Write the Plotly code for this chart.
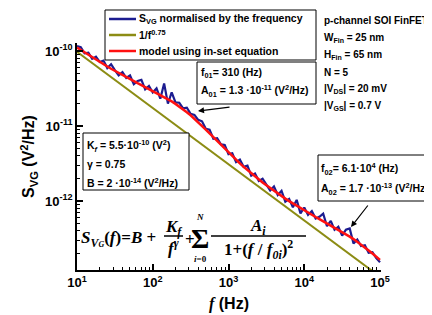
import plotly.graph_objects as go

# ---------------- data ----------------
freq = [10, 11.22, 12.59, 14.13, 15.85, 17.78, 19.95, 22.39, 25.12, 28.18,
        31.62, 35.48, 39.81, 44.67, 50.12, 56.23, 63.10, 70.79, 79.43, 89.13,
        100, 112.2, 125.9, 141.3, 158.5, 177.8, 199.5, 223.9, 251.2, 281.8,
        316.2, 354.8, 398.1, 446.7, 501.2, 562.3, 631.0, 707.9, 794.3, 891.3,
        1000, 1122, 1259, 1413, 1585, 1778, 1995, 2239, 2512, 2818,
        3162, 3548, 3981, 4467, 5012, 5623, 6310, 7079, 7943, 8913,
        10000, 11220, 12590, 14130, 15850, 17780, 19950, 22390, 25120, 28180,
        31620, 35480, 39810, 44670, 50120, 56230, 63100, 70790, 79430, 89130,
        100000]

svg_measured = [1.162e-10, 1.128e-10, 9.326e-11, 9.504e-11, 7.865e-11, 8.401e-11, 7.138e-11, 7.464e-11, 5.932e-11, 6.663e-11,
                5.555e-11, 4.744e-11, 5.226e-11, 4.373e-11, 4.719e-11, 3.608e-11, 3.992e-11, 4.123e-11, 3.084e-11, 3.415e-11,
                2.804e-11, 3.172e-11, 2.315e-11, 3.691e-11, 1.987e-11, 2.802e-11, 2.067e-11, 2.047e-11, 1.715e-11, 1.756e-11,
                1.455e-11, 1.408e-11, 1.208e-11, 1.157e-11, 9.19e-12, 8.95e-12, 6.77e-12, 6.89e-12, 5.71e-12, 5.57e-12,
                4.22e-12, 4.33e-12, 3.30e-12, 3.56e-12, 2.858e-12, 2.96e-12, 2.18e-12, 2.33e-12, 1.85e-12, 1.98e-12,
                1.655e-12, 1.385e-12, 1.567e-12, 1.201e-12, 1.367e-12, 9.81e-13, 1.068e-12, 8.25e-13, 1.035e-12, 6.83e-13,
                8.20e-13, 6.52e-13, 7.34e-13, 5.84e-13, 6.15e-13, 6.77e-13, 4.61e-13, 5.44e-13, 4.13e-13, 4.54e-13,
                3.45e-13, 4.14e-13, 4.31e-13, 2.71e-13, 3.07e-13, 2.51e-13, 2.57e-13, 2.04e-13, 2.08e-13, 1.73e-13,
                1.53e-13]

svg_model = [1.110e-10, 1.029e-10, 9.546e-11, 8.866e-11, 8.236e-11, 7.665e-11, 7.138e-11, 6.652e-11, 6.211e-11, 5.804e-11,
             5.430e-11, 5.085e-11, 4.768e-11, 4.476e-11, 4.206e-11, 3.956e-11, 3.724e-11, 3.509e-11, 3.306e-11, 3.116e-11,
             2.936e-11, 2.763e-11, 2.598e-11, 2.438e-11, 2.281e-11, 2.126e-11, 1.974e-11, 1.824e-11, 1.676e-11, 1.530e-11,
             1.390e-11, 1.255e-11, 1.127e-11, 1.008e-11, 8.98e-12, 7.98e-12, 7.09e-12, 6.29e-12, 5.585e-12, 4.965e-12,
             4.422e-12, 3.949e-12, 3.535e-12, 3.174e-12, 2.858e-12, 2.582e-12, 2.338e-12, 2.124e-12, 1.935e-12, 1.767e-12,
             1.618e-12, 1.484e-12, 1.365e-12, 1.258e-12, 1.163e-12, 1.076e-12, 9.96e-13, 9.26e-13, 8.61e-13, 8.02e-13,
             7.48e-13, 6.99e-13, 6.54e-13, 6.12e-13, 5.74e-13, 5.38e-13, 5.05e-13, 4.735e-13, 4.43e-13, 4.146e-13,
             3.87e-13, 3.61e-13, 3.35e-13, 3.106e-13, 2.86e-13, 2.63e-13, 2.40e-13, 2.19e-13, 1.99e-13, 1.81e-13,
             1.64e-13]

fit_freq = [10, 100, 1000, 10000, 100000]
fit_075 = [9.78e-11, 1.739e-11, 3.092e-12, 5.50e-13, 9.78e-14]

x_tickvals = [10, 100, 1000, 10000, 100000]
x_ticktext = ["10<sup>1</sup>", "10<sup>2</sup>", "10<sup>3</sup>", "10<sup>4</sup>", "10<sup>5</sup>"]
y_tickvals = [1e-12, 1e-11, 1e-10]
y_ticktext = ["10<sup>-12</sup>", "10<sup>-11</sup>", "10<sup>-10</sup>"]

legend_names = ["S<sub>VG</sub> normalised by the frequency",
                "1/f<sup>0.75</sup>",
                "model using in-set equation"]

box1_lines = ["f<sub>01</sub>= 310 (Hz)",
              "A<sub>01</sub> = 1.3 ·10<sup>-11</sup> (V<sup>2</sup>/Hz)"]
box2_lines = ["f<sub>02</sub>= 6.1·10<sup>4</sup> (Hz)",
              "A<sub>02</sub> = 1.7 ·10<sup>-13</sup> (V<sup>2</sup>/Hz)"]
box3_lines = ["K<sub><i>f</i></sub> = 5.5·10<sup>-10</sup> (V<sup>2</sup>)",
              "γ = 0.75",
              "B = 2 ·10<sup>-14</sup> (V<sup>2</sup>/Hz)"]
info_lines = ["p-channel SOI FinFET",
              "W<sub>Fin</sub> = 25 nm",
              "H<sub>Fin</sub> = 65 nm",
              "N = 5",
              "|V<sub>DS</sub>| = 20 mV",
              "|V<sub>GS</sub>| = 0.7 V"]

# ---------------- layout helpers (pixel -> paper) ----------------
W, H = 432, 315
X0, X1, Y0, Y1 = 69, 373, 35, 262


def px(x):
    return (x - X0) / (X1 - X0)


def py(y):
    return (Y1 - y) / (Y1 - Y0)


SANS = "Liberation Sans, Arial, sans-serif"
SERIF = "Liberation Serif, Times New Roman, serif"
BLUE = "#1c1c90"
OLIVE = "#8c8c14"
RED = "#ff1010"
COLORS = [BLUE, OLIVE, RED]

fig = go.Figure()
fig.add_trace(go.Scatter(x=freq, y=svg_measured, mode="lines", name=legend_names[0],
                         line=dict(color=BLUE, width=2.2), showlegend=False))
fig.add_trace(go.Scatter(x=fit_freq, y=fit_075, mode="lines", name=legend_names[1],
                         line=dict(color=OLIVE, width=2), showlegend=False))
fig.add_trace(go.Scatter(x=freq, y=svg_model, mode="lines", name=legend_names[2],
                         line=dict(color=RED, width=2.5), showlegend=False))

annotations = []
shapes = []


def text(x, y, s, size=11, xanchor="left", family=SANS, weight="bold"):
    annotations.append(dict(x=px(x), y=py(y), xref="paper", yref="paper", text=s,
                            showarrow=False, xanchor=xanchor, yanchor="middle", borderpad=0,
                            font=dict(family=family, size=size, color="black", weight=weight)))


def box(x0, y0, x1, y1):
    shapes.append(dict(type="rect", xref="paper", yref="paper",
                       x0=px(x0), x1=px(x1), y0=py(y1), y1=py(y0),
                       line=dict(color="black", width=1), fillcolor="white", layer="above"))


def hline(x0, x1, y, color, width):
    shapes.append(dict(type="line", xref="paper", yref="paper", x0=px(x0), x1=px(x1),
                       y0=py(y), y1=py(y), line=dict(color=color, width=width), layer="above"))


def arrow(hx, hy, tx, ty):
    annotations.append(dict(x=px(hx), y=py(hy), ax=tx - hx, ay=ty - hy, xref="paper", yref="paper",
                            axref="pixel", ayref="pixel", text="", showarrow=True,
                            arrowhead=2, arrowsize=1, arrowwidth=1.2, arrowcolor="black"))


# legend (drawn by hand so that its spacing matches)
box(97, 2, 308, 52)
for i, (name, col) in enumerate(zip(legend_names, COLORS)):
    yy = 11 + 16 * i
    hline(101, 128, yy, col, 2.5)
    text(130, yy, name, size=10.5)

# boxes with texts
box(189, 54, 308, 96)
for i, s in enumerate(box1_lines):
    text(192, 65 + 18 * i, s, size=10.5)
box(310, 147, 430, 193)
for i, s in enumerate(box2_lines):
    text(312, 161 + 20 * i, s, size=10.5)
box(75, 125, 181, 182)
for i, s in enumerate(box3_lines):
    text(78, 138 + 18 * i, s, size=10.5)
for i, s in enumerate(info_lines):
    text(315, 13 + 17 * i, s, size=10)

arrow(190, 103, 223, 99)
arrow(343, 219, 361, 196)

# equation
EQ = 17
text(72, 231, "<b><i>S</i></b><sub><b><i>V<span style='font-size:8px'>G</span></i></b></sub><b>(<i>f</i>)=<i>B</i> +</b>",
     size=EQ, family=SERIF)
text(165, 220, "<b><i>K</i></b><sub><b><i>f</i></b></sub>", size=EQ, xanchor="center", family=SERIF)
hline(156, 175, 228, "black", 1.5)
text(165, 239, "<b><i>f</i></b><sup><b><i>γ</i></b></sup>", size=EQ, xanchor="center", family=SERIF)
text(176, 231, "<b>+</b>", size=EQ, xanchor="left", family=SERIF)
text(192, 230, "<b>Σ</b>", size=28, xanchor="center", family=SERIF)
text(192, 209, "<i>N</i>", size=9, xanchor="center", family=SERIF)
text(192, 251, "<b><i>i</i>=0</b>", size=9, xanchor="center", family=SERIF)
text(250, 219, "<b><i>A</i></b><sub><b><i>i</i></b></sub>", size=EQ, xanchor="center", family=SERIF)
hline(203, 298, 228, "black", 1.5)
text(250, 241, "<b>1+(<i>f</i> / <i>f</i></b><sub><b><i>0i</i></b></sub><b>)</b><sup><b>2</b></sup>",
     size=EQ, xanchor="center", family=SERIF)

minor_x = [m * 10 ** e for e in range(1, 5) for m in range(2, 10)]
minor_y = [m * 10.0 ** e for e in range(-13, -9) for m in range(2, 10)]

axis_common = dict(type="log", showline=True, linecolor="black", linewidth=1.5, mirror=False,
                   ticks="inside", ticklen=6, tickwidth=1.5, tickcolor="black",
                   showgrid=False, zeroline=False, tickmode="array",
                   tickfont=dict(family=SANS, size=13, color="black", weight="bold"))

fig.update_layout(
    width=W, height=H,
    margin=dict(l=X0, r=W - X1, t=Y0, b=H - Y1, autoexpand=False),
    paper_bgcolor="white", plot_bgcolor="white",
    xaxis=dict(range=[1, 5.013], tickvals=x_tickvals, ticktext=x_ticktext,
               minor=dict(tickmode="array", tickvals=minor_x, ticks="inside", ticklen=3,
                          tickwidth=1, tickcolor="black", showgrid=False),
               title=dict(text="<span style='font-family:Liberation Serif'><i>f</i></span> (Hz)",
                          font=dict(family=SANS, size=16, color="black", weight="bold"), standoff=8),
               **axis_common),
    yaxis=dict(range=[-12.92, -9.893], tickvals=y_tickvals, ticktext=y_ticktext,
               minor=dict(tickmode="array", tickvals=minor_y, ticks="inside", ticklen=3,
                          tickwidth=1, tickcolor="black", showgrid=False),
               title=dict(text="S<sub>VG</sub> (V<sup>2</sup>/Hz)",
                          font=dict(family=SANS, size=16, color="black", weight="bold"), standoff=6),
               **axis_common),
    showlegend=False,
    annotations=annotations,
    shapes=shapes,
)

fig.write_html("out.html")
